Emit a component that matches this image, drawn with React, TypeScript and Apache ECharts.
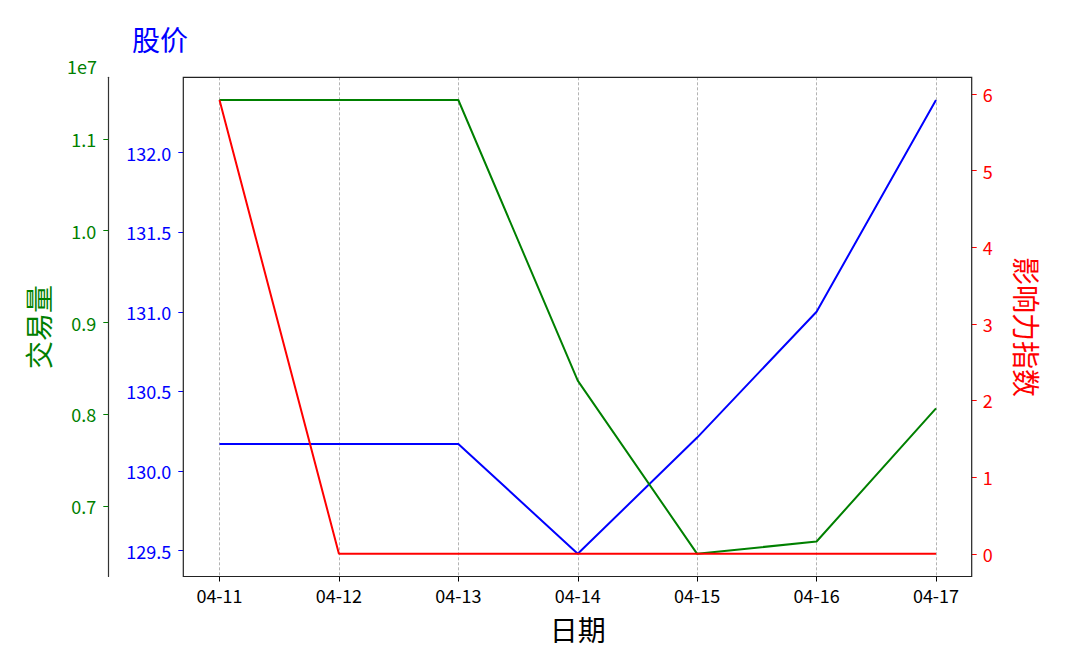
import React, { useEffect, useRef } from "react";
import * as echarts from "echarts";

const dates = ["04-11", "04-12", "04-13", "04-14", "04-15", "04-16", "04-17"];
const price = [130.17, 130.17, 130.17, 129.48, 130.21, 131.0, 132.33];
const volume = [11423000, 11423000, 11423000, 8368000, 6483000, 6617000, 8066000];
const influence = [5.92, 0, 0, 0, 0, 0, 0];

const priceTicks = [129.5, 130.0, 130.5, 131.0, 131.5, 132.0];
const volumeTicks = [7000000, 8000000, 9000000, 10000000, 11000000];
const influenceTicks = [0, 1, 2, 3, 4, 5, 6];

const FONT = "'Noto Sans CJK SC', 'Noto Sans', sans-serif";

function padExtent(arr: number[]): [number, number] {
  const mn = Math.min(...arr);
  const mx = Math.max(...arr);
  const r = mx - mn;
  return [mn - 0.05 * r, mx + 0.05 * r];
}

export default function App() {
  const ref = useRef<HTMLDivElement>(null);
  useEffect(() => {
    if (!ref.current) return;
    const chart = echarts.init(ref.current, null, { renderer: "svg" });
    const [pMin, pMax] = padExtent(price);
    const [vMin, vMax] = padExtent(volume);
    const [iMin, iMax] = padExtent(influence);

    const gridLeft = 219.5;
    const gridRight = 1080 - 936;
    const gridTop = 77.3;
    const gridBottom = 648 - 576.5;

    chart.setOption({
      animation: false,
      backgroundColor: "#ffffff",
      textStyle: { fontFamily: FONT },
      grid: { left: gridLeft, right: gridRight, top: gridTop, bottom: gridBottom, containLabel: false },
      xAxis: {
        type: "category",
        data: dates,
        boundaryGap: false,
        name: "日期",
        nameLocation: "middle",
        nameGap: 38,
        nameTextStyle: { fontSize: 28, color: "#000", fontFamily: FONT },
        axisLine: { show: false, onZero: false },
        axisTick: { show: true, alignWithLabel: true, length: 5, lineStyle: { color: "#000", width: 1 } },
        axisLabel: { fontSize: 18, color: "#000", margin: 9, fontFamily: FONT },
        splitLine: { show: true, lineStyle: { color: "#a0a0a0", width: 0.8, type: [3, 2] } },
      },
      yAxis: [
        {
          type: "value",
          position: "left",
          offset: gridLeft - 183.3,
          min: pMin,
          max: pMax,
          axisLine: { show: false, onZero: false },
          axisTick: { show: true, length: 5, customValues: priceTicks, lineStyle: { color: "blue" } },
          axisLabel: {
            show: true,
            customValues: priceTicks,
            fontSize: 18,
            color: "blue",
            margin: 12,
            fontFamily: FONT,
            formatter: (v: number) => v.toFixed(1),
          },
          splitLine: { show: false },
        },
        {
          type: "value",
          position: "left",
          offset: gridLeft - 108.3,
          min: vMin,
          max: vMax,
          name: "交易量",
          nameLocation: "middle",
          nameGap: 56,
          nameTextStyle: { fontSize: 28, color: "green", fontFamily: FONT },
          axisLine: { show: true, onZero: false, lineStyle: { color: "#333", width: 1.2 } },
          axisTick: { show: true, length: 5, customValues: volumeTicks, lineStyle: { color: "green" } },
          axisLabel: {
            show: true,
            customValues: volumeTicks,
            fontSize: 18,
            color: "green",
            margin: 12,
            fontFamily: FONT,
            formatter: (v: number) => (v / 1e7).toFixed(1),
          },
          splitLine: { show: false },
        },
        {
          type: "value",
          position: "right",
          offset: 971.7 - 936,
          min: iMin,
          max: iMax,
          name: "影响力指数",
          nameLocation: "middle",
          nameRotate: -90,
          nameGap: 41,
          nameTextStyle: { fontSize: 28, color: "red", fontFamily: FONT },
          axisLine: { show: false, onZero: false },
          axisTick: { show: true, length: 5, customValues: influenceTicks, lineStyle: { color: "red" } },
          axisLabel: {
            show: true,
            customValues: influenceTicks,
            fontSize: 18,
            color: "red",
            margin: 11,
            fontFamily: FONT,
            formatter: (v: number) => String(Math.round(v)),
          },
          splitLine: { show: false },
        },
      ],
      graphic: [
        {
          type: "rect",
          shape: { x: 183.3, y: 77.3, width: 971.7 - 183.3, height: 576.5 - 77.3 },
          style: { fill: "none", stroke: "#222", lineWidth: 1.2 },
          silent: true,
          z: 10,
        },
        {
          type: "text",
          x: 160,
          y: 38.5,
          style: {
            text: "股价",
            fontSize: 28,
            fill: "blue",
            fontFamily: FONT,
            textAlign: "center",
            textVerticalAlign: "middle",
          },
        },
        {
          type: "text",
          x: 97,
          y: 66,
          style: {
            text: "1e7",
            fontSize: 18,
            fill: "green",
            fontFamily: FONT,
            textAlign: "right",
            textVerticalAlign: "middle",
          },
        },
      ],
      series: [
        {
          type: "line",
          name: "股价",
          yAxisIndex: 0,
          data: price,
          showSymbol: false,
          symbol: "none",
          lineStyle: { color: "blue", width: 2 },
          z: 2,
        },
        {
          type: "line",
          name: "交易量",
          yAxisIndex: 1,
          data: volume,
          showSymbol: false,
          symbol: "none",
          lineStyle: { color: "green", width: 2 },
          z: 3,
        },
        {
          type: "line",
          name: "影响力指数",
          yAxisIndex: 2,
          data: influence,
          showSymbol: false,
          symbol: "none",
          lineStyle: { color: "red", width: 2 },
          z: 4,
        },
      ],
    });
    return () => chart.dispose();
  }, []);
  return (
    <div
      ref={ref}
      style={{ position: "fixed", left: 0, top: 0, width: 1080, height: 648, background: "#fff" }}
    />
  );
}
